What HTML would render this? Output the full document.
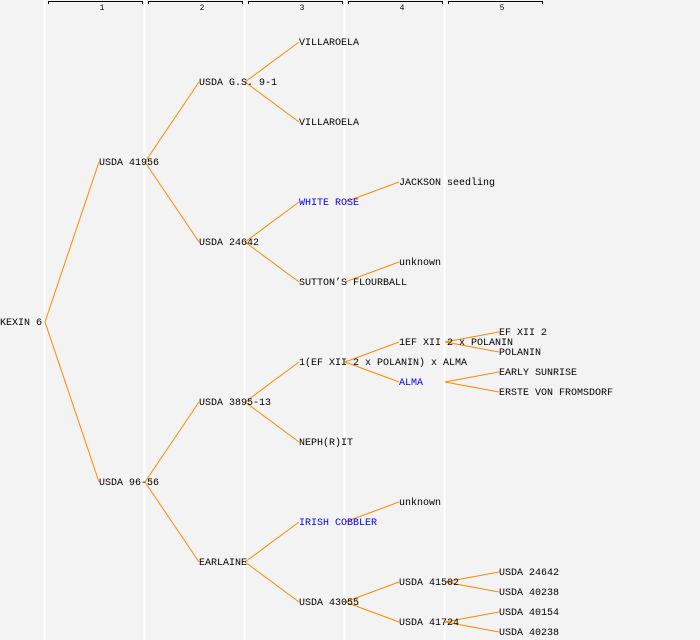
<!DOCTYPE html>
<html><head><style>
html,body{margin:0;padding:0;background:#f3f3f3;}
svg{display:block;}
text{font-family:"Liberation Mono","DejaVu Sans Mono",monospace;font-size:10px;}
</style></head><body>
<svg width="700" height="640" xmlns="http://www.w3.org/2000/svg">
<rect width="700" height="640" fill="#f3f3f3"/>
<g stroke="#ffffff" stroke-width="2">
<line x1="44.5" y1="0" x2="44.5" y2="640"/><line x1="144.5" y1="0" x2="144.5" y2="640"/>
<line x1="244.5" y1="0" x2="244.5" y2="640"/><line x1="344.5" y1="0" x2="344.5" y2="640"/>
<line x1="444.5" y1="0" x2="444.5" y2="640"/>
</g>
<g fill="none" stroke="#000" stroke-width="1">
<path d="M48.5,4V1.5H142.5V4"/><path d="M148.5,4V1.5H242.5V4"/><path d="M248.5,4V1.5H342.5V4"/><path d="M348.5,4V1.5H442.5V4"/><path d="M448.5,4V1.5H542.5V4"/>
</g>
<g text-anchor="middle">
<text x="102" y="10" style="font-size:8px">1</text><text x="202" y="10" style="font-size:8px">2</text><text x="302" y="10" style="font-size:8px">3</text><text x="402" y="10" style="font-size:8px">4</text><text x="502" y="10" style="font-size:8px">5</text>
</g>
<g stroke="#ff8800" stroke-width="1" fill="none">
<line x1="45" y1="322" x2="99" y2="162"/><line x1="45" y1="322" x2="99" y2="482"/>
<line x1="145" y1="162" x2="199" y2="82"/><line x1="145" y1="162" x2="199" y2="242"/>
<line x1="145" y1="482" x2="199" y2="402"/><line x1="145" y1="482" x2="199" y2="562"/>
<line x1="245" y1="82" x2="299" y2="42"/><line x1="245" y1="82" x2="299" y2="122"/>
<line x1="245" y1="242" x2="299" y2="202"/><line x1="245" y1="242" x2="299" y2="282"/>
<line x1="245" y1="402" x2="299" y2="362"/><line x1="245" y1="402" x2="299" y2="442"/>
<line x1="245" y1="562" x2="299" y2="522"/><line x1="245" y1="562" x2="299" y2="602"/>
<line x1="345" y1="202" x2="399" y2="182"/><line x1="345" y1="282" x2="399" y2="262"/>
<line x1="345" y1="362" x2="399" y2="342"/><line x1="345" y1="362" x2="399" y2="382"/>
<line x1="345" y1="522" x2="399" y2="502"/>
<line x1="345" y1="602" x2="399" y2="582"/><line x1="345" y1="602" x2="399" y2="622"/>
<line x1="445" y1="342" x2="499" y2="332"/><line x1="445" y1="342" x2="499" y2="352"/>
<line x1="445" y1="382" x2="499" y2="372"/><line x1="445" y1="382" x2="499" y2="392"/>
<line x1="445" y1="582" x2="499" y2="572"/><line x1="445" y1="582" x2="499" y2="592"/>
<line x1="445" y1="622" x2="499" y2="612"/><line x1="445" y1="622" x2="499" y2="632"/>
</g>
<g fill="#000" dominant-baseline="central" transform="translate(0,1.5)">
<text x="0" y="322">KEXIN 6</text>
<text x="99" y="162">USDA 41956</text><text x="99" y="482">USDA 96-56</text>
<text x="199" y="82">USDA G.S. 9-1</text><text x="199" y="242">USDA 24642</text><text x="199" y="402">USDA 3895-13</text><text x="199" y="562">EARLAINE</text>
<text x="299" y="42">VILLAROELA</text><text x="299" y="122">VILLAROELA</text>
<text x="299" y="202" fill="#0000ff">WHITE ROSE</text><text x="299" y="282">SUTTON’S FLOURBALL</text>
<text x="299" y="362">1(EF XII 2 x POLANIN) x ALMA</text><text x="299" y="442">NEPH(R)IT</text>
<text x="299" y="522" fill="#0000ff">IRISH COBBLER</text><text x="299" y="602">USDA 43055</text>
<text x="399" y="182">JACKSON seedling</text><text x="399" y="262">unknown</text>
<text x="399" y="342">1EF XII 2 x POLANIN</text><text x="399" y="382" fill="#0000ff">ALMA</text>
<text x="399" y="502">unknown</text><text x="399" y="582">USDA 41502</text><text x="399" y="622">USDA 41724</text>
<text x="499" y="332">EF XII 2</text><text x="499" y="352">POLANIN</text>
<text x="499" y="372">EARLY SUNRISE</text><text x="499" y="392">ERSTE VON FROMSDORF</text>
<text x="499" y="572">USDA 24642</text><text x="499" y="592">USDA 40238</text>
<text x="499" y="612">USDA 40154</text><text x="499" y="632">USDA 40238</text>
</g>
</svg>
</body></html>
